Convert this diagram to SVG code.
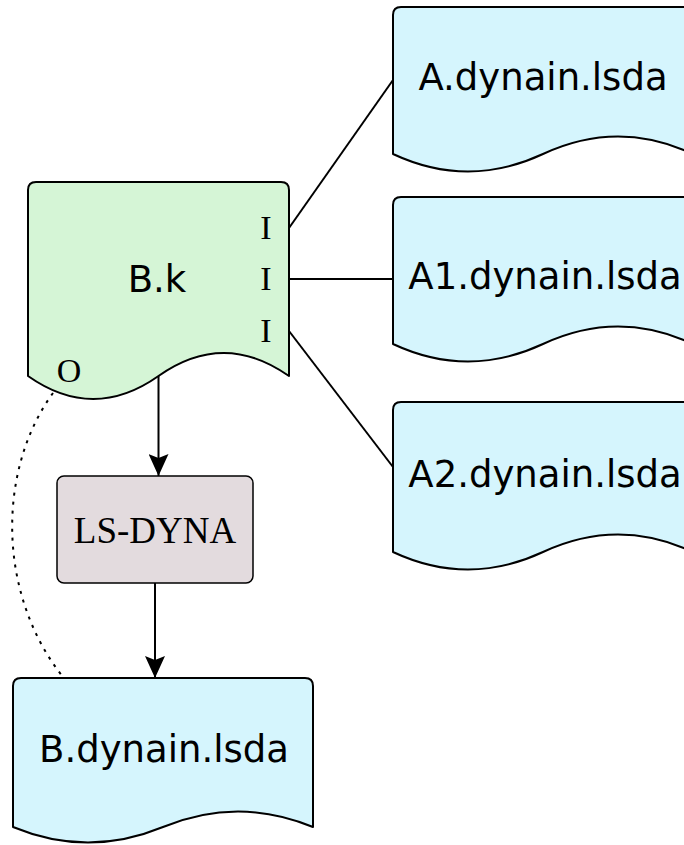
<svg xmlns="http://www.w3.org/2000/svg" width="684" height="845" viewBox="0 0 684 845">
<style>
.doc{stroke:#000;stroke-width:2;stroke-linejoin:round}
.blue{fill:#d5f5fd}
.green{fill:#d5f5d6}
.proc{fill:#e3dbde;stroke:#000;stroke-width:1.5}
.sans{font-family:"DejaVu Sans",Verdana,sans-serif;font-size:37px;fill:#000}
.serif{font-family:"Liberation Serif","Times New Roman",serif;fill:#000}
.edge{fill:none;stroke:#000;stroke-width:2}
.dot{fill:none;stroke:#000;stroke-width:2;stroke-dasharray:3 6}
</style>
<defs>
<marker id="arr" markerUnits="userSpaceOnUse" markerWidth="24" markerHeight="20" refX="22" refY="10" orient="auto" viewBox="0 0 24 20">
<path d="M0,0 L22,10 L0,20 L4,10 Z" fill="#000"/>
</marker>
</defs>
<g id="connectors">
<path class="edge" d="M289,228 L393,80"/>
<path class="edge" d="M289,279 L393,279"/>
<path class="edge" d="M289,331 L393,467"/>
<path class="edge" d="M158.5,372 L158.5,476" marker-end="url(#arr)"/>
<path class="edge" d="M155,583 L155,678" marker-end="url(#arr)"/>
<path class="dot" d="M53,393 C-3,470 -3,594 63,677"/>
</g>
<g id="node-A">
<path class="doc blue" d="M393,154 L393,15 Q393,7 401,7 L685,7 Q693,7 693,15 L693,154 Q618,119 543,154 Q468,189 393,154 Z"/>
<text class="sans" x="543" y="90" text-anchor="middle">A.dynain.lsda</text>
</g>
<g id="node-A1">
<path class="doc blue" d="M393,344 L393,205 Q393,197 401,197 L685,197 Q693,197 693,205 L693,344 Q618,309 543,344 Q468,379 393,344 Z"/>
<text class="sans" x="545" y="289" text-anchor="middle">A1.dynain.lsda</text>
</g>
<g id="node-A2">
<path class="doc blue" d="M393,552 L393,410 Q393,402 401,402 L685,402 Q693,402 693,410 L693,552 Q618,517 543,552 Q468,587 393,552 Z"/>
<text class="sans" x="545" y="487" text-anchor="middle">A2.dynain.lsda</text>
</g>
<g id="node-Bk">
<path class="doc green" d="M28,376 L28,190 Q28,182 36,182 L281,182 Q289,182 289,190 L289,376 Q223.75,330 158.5,376 Q93.25,422 28,376 Z"/>
<text class="sans" x="157" y="292" text-anchor="middle">B.k</text>
<text class="serif" x="266" y="239" text-anchor="middle" font-size="34">I</text>
<text class="serif" x="266" y="290" text-anchor="middle" font-size="34">I</text>
<text class="serif" x="266" y="342" text-anchor="middle" font-size="34">I</text>
<text class="serif" x="69" y="382" text-anchor="middle" font-size="34">O</text>
</g>
<g id="node-LSDYNA">
<rect class="proc" x="57" y="476" width="196" height="107" rx="7"/>
<text class="serif" x="155" y="543" text-anchor="middle" font-size="37">LS-DYNA</text>
</g>
<g id="node-Bdynain">
<path class="doc blue" d="M13,827 L13,686 Q13,678 21,678 L305,678 Q313,678 313,686 L313,827 Q238,796 163,827 Q88,858 13,827 Z"/>
<text class="sans" x="164" y="762" text-anchor="middle">B.dynain.lsda</text>
</g>
</svg>
